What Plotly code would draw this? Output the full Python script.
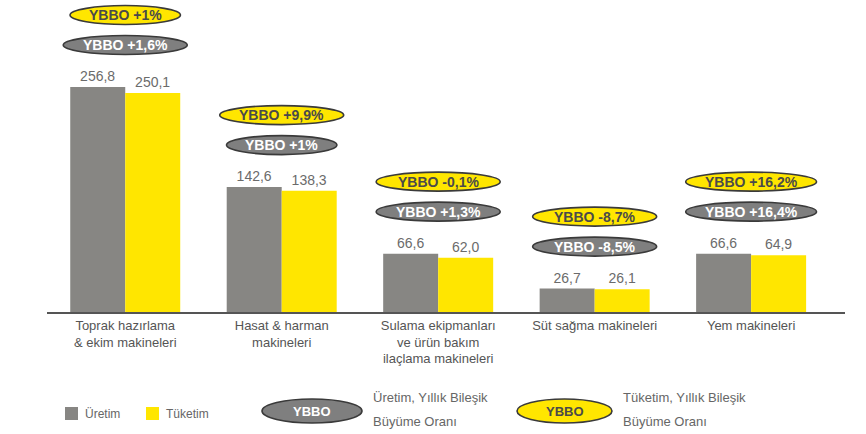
import plotly.graph_objects as go

categories = ["Toprak hazırlama<br>& ekim makineleri", "Hasat & harman<br>makineleri",
              "Sulama ekipmanları<br>ve ürün bakım<br>ilaçlama makineleri",
              "Süt sağma makineleri", "Yem makineleri"]
uretim = [256.8, 142.6, 66.6, 26.7, 66.6]
tuketim = [250.1, 138.3, 62.0, 26.1, 64.9]
ybbo_uretim = ["+1,6%", "+1%", "+1,3%", "-8,5%", "+16,4%"]
ybbo_tuketim = ["+1%", "+9,9%", "-0,1%", "-8,7%", "+16,2%"]

W, H = 866, 434
ML, MR, MT, MB = 47, 21, 0, 122
plot_w = W - ML - MR
plot_h = H - MT - MB
YMAX = 356.2
XMIN, XMAX = -0.5, 4.6
ypx = YMAX / plot_h          # data units per px
xpx = (XMAX - XMIN) / plot_w  # category units per px

GRAY = "#878683"
YELLOW = "#FFE600"
FONT = "Liberation Sans, Arial, sans-serif"

def fmt(v):
    return f"{v:.1f}".replace(".", ",")

fig = go.Figure()
fig.add_trace(go.Bar(x=list(range(len(categories))), y=uretim, name="Üretim",
                     marker=dict(color=GRAY, line=dict(width=0)),
                     text=[fmt(v) for v in uretim], textposition="outside",
                     textfont=dict(color="#6b6b6b", size=14, family=FONT),
                     cliponaxis=False))
fig.add_trace(go.Bar(x=list(range(len(categories))), y=tuketim, name="Tüketim",
                     marker=dict(color=YELLOW, line=dict(width=0)),
                     text=[fmt(v) for v in tuketim], textposition="outside",
                     textfont=dict(color="#6b6b6b", size=14, family=FONT),
                     cliponaxis=False))

shapes = []
annotations = []
EH = 19  # ellipse height px
for i, u in enumerate(uretim):
    for lab, off, fill, tcol in [(ybbo_uretim[i], 42, "#7f7f7f", "white"),
                                 (ybbo_tuketim[i], 72, YELLOW, "#4a4a4a")]:
        txt = "YBBO " + lab
        wpx = 56 + 6.8 * len(txt)
        cy = u + off * ypx
        shapes.append(dict(type="circle", xref="x", yref="y",
                           x0=i - wpx / 2 * xpx, x1=i + wpx / 2 * xpx,
                           y0=cy - EH / 2 * ypx, y1=cy + EH / 2 * ypx,
                           fillcolor=fill, line=dict(color="#3a3a3a", width=1.6), layer="above"))
        annotations.append(dict(x=i, y=cy, xref="x", yref="y", text="<b>" + txt + "</b>",
                                showarrow=False, xanchor="center", yanchor="middle",
                                font=dict(color=tcol, size=14, family=FONT)))

def px_x(p):
    return (p - ML) / plot_w

def px_y(p):
    return (H - MB - p) / plot_h

# legend: bars
for x0, col, label in [(65, GRAY, "Üretim"), (146, YELLOW, "Tüketim")]:
    shapes.append(dict(type="rect", xref="paper", yref="paper",
                       x0=px_x(x0), x1=px_x(x0 + 13), y0=px_y(420), y1=px_y(407),
                       fillcolor=col, line=dict(width=0)))
    annotations.append(dict(x=px_x(x0 + 18), y=px_y(414), xref="paper", yref="paper",
                            text=label, showarrow=False, xanchor="left", yanchor="middle",
                            font=dict(color="#666666", size=12, family=FONT)))
# legend: ellipses
for x0, x1, fill, tcol, l1 in [(262, 362, "#7f7f7f", "white", "Üretim, Yıllık Bileşik"),
                               (517, 612, YELLOW, "#4a4a4a", "Tüketim, Yıllık Bileşik")]:
    shapes.append(dict(type="circle", xref="paper", yref="paper",
                       x0=px_x(x0), x1=px_x(x1), y0=px_y(423), y1=px_y(399),
                       fillcolor=fill, line=dict(color="#3a3a3a", width=1.6)))
    annotations.append(dict(x=px_x((x0 + x1) / 2), y=px_y(411), xref="paper", yref="paper",
                            text="<b>YBBO</b>", showarrow=False, xanchor="center", yanchor="middle",
                            font=dict(color=tcol, size=13, family=FONT)))
    annotations.append(dict(x=px_x(x1 + 9), y=px_y(397), xref="paper", yref="paper",
                            text=l1, showarrow=False, xanchor="left", yanchor="middle",
                            font=dict(color="#666666", size=13, family=FONT)))
    annotations.append(dict(x=px_x(x1 + 9), y=px_y(421), xref="paper", yref="paper",
                            text="Büyüme Oranı", showarrow=False, xanchor="left", yanchor="middle",
                            font=dict(color="#666666", size=13, family=FONT)))

fig.update_layout(
    width=W, height=H, margin=dict(l=ML, r=MR, t=MT, b=MB),
    paper_bgcolor="white", plot_bgcolor="white",
    barmode="group", bargap=0.297, bargroupgap=0,
    showlegend=False,
    shapes=shapes, annotations=annotations,
    xaxis=dict(range=[XMIN, XMAX], tickmode="array", tickvals=list(range(len(categories))),
               ticktext=categories, showline=True, linecolor="#555555", linewidth=2,
               showgrid=False, zeroline=False, ticks="",
               tickfont=dict(color="#555555", size=13, family=FONT)),
    yaxis=dict(range=[0, YMAX], visible=False, showgrid=False, zeroline=False),
)

fig.write_html("out.html", config={"displayModeBar": False},
               post_script="document.body.style.margin='0';")
